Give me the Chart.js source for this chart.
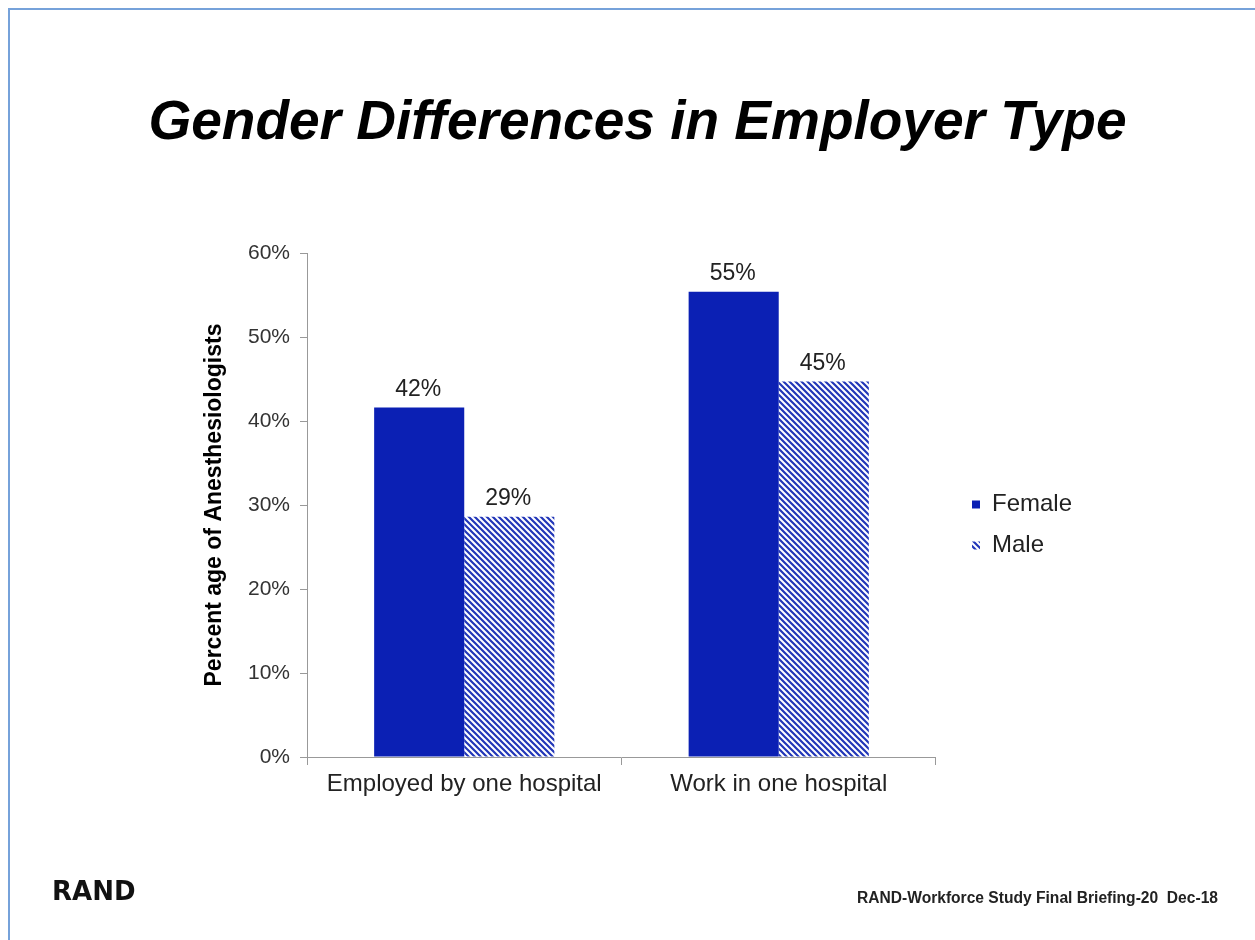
<!DOCTYPE html>
<html>
<head>
<meta charset="utf-8">
<script src="https://cdn.jsdelivr.net/npm/chart.js@4.4.1/dist/chart.umd.min.js"></script>
<style>
    body { margin: 0; background: #fff; font-family: "Liberation Sans", Arial, sans-serif; overflow: hidden; }
    #frame { position: absolute; left: 8px; top: 8px; width: 1300px; height: 1000px;
             border-top: 2px solid #76a2da; border-left: 2px solid #76a2da; }
    #title { position: absolute; left: 0; width: 1275px; top: 93px; line-height: 55px; text-align: center;
             font-size: 55px; font-weight: bold; font-style: italic; color: #000; }
    #logo { position: absolute; left: 52px; top: 876px; font-family: "DejaVu Sans", sans-serif;
            font-size: 26px; font-weight: bold; color: #111; }
    #footer { position: absolute; right: 37px; top: 889px; font-size: 15.6px; font-weight: bold;
              color: #222; white-space: pre; }
    #wrap { position: absolute; left: 0; top: 0; width: 1255px; height: 940px; }
</style>
</head>
<body>
<div id="frame"></div>
<div id="wrap"><canvas id="employerChart"></canvas></div>
<div id="title">Gender Differences in Employer Type</div>
<div id="logo">RAND</div>
<div id="footer">RAND-Workforce Study Final Briefing-20  Dec-18</div>
<script>
// Data
const categories = ['Employed by one hospital', 'Work in one hospital'];
const femaleValues = [41.6, 55.4];
const maleValues = [28.6, 44.7];
const yTickLabels = ['0%', '10%', '20%', '30%', '40%', '50%', '60%'];

const blue = '#0b20b4';

// Diagonal hatch used for the Male bars
function makeHatch() {
    const c = document.createElement('canvas');
    c.width = 6;
    c.height = 6;
    const g = c.getContext('2d');
    g.fillStyle = '#fff';
    g.fillRect(0, 0, 6, 6);
    g.strokeStyle = '#2236b8';
    g.lineWidth = 2.2;
    g.beginPath();
    g.moveTo(-1, -1); g.lineTo(7, 7);
    g.moveTo(-4, 2); g.lineTo(4, 10);
    g.moveTo(2, -4); g.lineTo(10, 4);
    g.stroke();
    return g.createPattern(c, 'repeat');
}

// Percent labels above each bar
const valueLabels = {
    id: 'valueLabels',
    afterDatasetsDraw(chart) {
        const ctx = chart.ctx;
        ctx.save();
        ctx.font = '23px "Liberation Sans", Arial, sans-serif';
        ctx.fillStyle = '#222';
        ctx.textAlign = 'center';
        ctx.textBaseline = 'alphabetic';
        chart.data.datasets.forEach((ds, i) => {
            chart.getDatasetMeta(i).data.forEach((bar, j) => {
                ctx.fillText(Math.round(ds.data[j]) + '%', bar.x - 1, bar.y - 12);
            });
        });
        ctx.restore();
    }
};

// Nudge the legend a little away from the plot, as on the slide
const legendNudge = {
    id: 'legendNudge',
    afterLayout(chart) {
        const lg = chart.legend;
        if (!lg) return;
        lg.left += 19; lg.right += 19;
        lg.top -= 10; lg.bottom -= 10;
    }
};

document.addEventListener('DOMContentLoaded', function() {
    const ctx = document.getElementById('employerChart').getContext('2d');
    new Chart(ctx, {
        type: 'bar',
        data: {
            labels: categories,
            datasets: [{
                label: 'Female',
                data: femaleValues,
                backgroundColor: blue,
                borderWidth: 0,
                categoryPercentage: 0.573,
                barPercentage: 1.0
            }, {
                label: 'Male',
                data: maleValues,
                backgroundColor: makeHatch(),
                borderWidth: 0,
                categoryPercentage: 0.573,
                barPercentage: 1.0
            }]
        },
        options: {
            responsive: true,
            maintainAspectRatio: false,
            animation: false,
            layout: {
                padding: { left: 187, top: 253, right: 192, bottom: 123 }
            },
            scales: {
                x: {
                    grid: { drawOnChartArea: false, tickLength: 8, color: '#999', offset: true },
                    border: { color: '#999' },
                    ticks: { color: '#222', font: { size: 24 }, padding: 5 },
                    afterFit(scale) { scale.height = 60; }
                },
                y: {
                    min: 0,
                    max: 60,
                    ticks: {
                        stepSize: 10,
                        color: '#333',
                        padding: 10,
                        font: { size: 21 },
                        callback: (v, i) => yTickLabels[i]
                    },
                    grid: { drawOnChartArea: false, tickLength: 7, color: '#999' },
                    border: { color: '#999' },
                    title: {
                        display: true,
                        text: 'Percent age of Anesthesiologists',
                        color: '#000',
                        font: { size: 23, weight: 'bold' },
                        padding: { top: 14, bottom: 0 }
                    },
                    afterFit(scale) { scale.width = 120; }
                }
            },
            plugins: {
                legend: {
                    position: 'right',
                    align: 'center',
                    labels: {
                        color: '#222',
                        font: { size: 24 },
                        boxWidth: 8,
                        boxHeight: 8,
                        padding: 17
                    }
                },
                tooltip: { enabled: false }
            }
        },
        plugins: [valueLabels, legendNudge]
    });
});
</script>
</body>
</html>
